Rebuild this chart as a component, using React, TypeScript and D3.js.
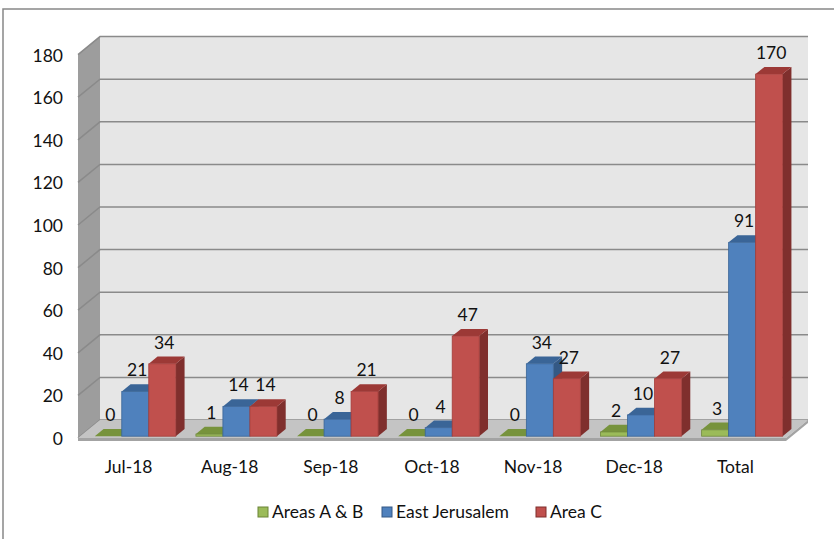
import * as React from 'react';
import * as d3 from 'd3';

const WIDTH = 834;
const HEIGHT = 539;

const categories = ['Jul-18', 'Aug-18', 'Sep-18', 'Oct-18', 'Nov-18', 'Dec-18', 'Total'];
const seriesNames = ['Areas A & B', 'East Jerusalem', 'Area C'];
const areasAB = [0, 1, 0, 0, 0, 2, 3];
const eastJerusalem = [21, 14, 8, 4, 34, 10, 91];
const areaC = [34, 14, 21, 47, 27, 27, 170];
const yTicks = [0, 20, 40, 60, 80, 100, 120, 140, 160, 180];

const seriesValues = [areasAB, eastJerusalem, areaC];
const palette = [
  { front: '#9bbb59', top: '#77933c', side: '#6b8436', stroke: '#71893f' },
  { front: '#4f81bd', top: '#3a6597', side: '#345985', stroke: '#3a6597' },
  { front: '#c0504d', top: '#9c3936', side: '#7f2f2d', stroke: '#a33e3b' },
];

// depth of the 3D box
const DX = 22;
const DY = 18;
const FONT = 'Lato, "Open Sans", sans-serif';
const FS = 17.5;

const x = d3.scaleBand().domain(categories).range([78, 786]);
const y = d3.scaleLinear().domain([0, 180]).range([438, 54.6]);
const inner = d3.scaleBand().domain(seriesNames).range([-36, 45]);

const P = (px, v, d) => [px + DX * d, y(v) - DY * d];
const poly = pts => pts.map(p => p.join(',')).join(' ');

const App = () => {
  const ref = React.useRef(null);

  React.useEffect(() => {
    const svg = d3.select(ref.current);
    svg.selectAll('*').remove();

    // chart frame
    svg
      .append('rect')
      .attr('x', 3)
      .attr('y', 9)
      .attr('width', 850)
      .attr('height', 560)
      .attr('fill', '#fff')
      .attr('stroke', '#888')
      .attr('stroke-width', 1.5);

    // back wall
    const [bx0, by0] = P(x.range()[0], 180, 1);
    const [bx1, by1] = P(x.range()[1], 0, 1);
    svg
      .append('rect')
      .attr('x', bx0)
      .attr('y', by0)
      .attr('width', bx1 - bx0)
      .attr('height', by1 - by0)
      .attr('fill', '#e6e6e6');

    // side wall
    const x0 = x.range()[0];
    svg
      .append('polygon')
      .attr('points', poly([P(x0, 180, 0), P(x0, 180, 1), P(x0, 0, 1), P(x0, 0, 0)]))
      .attr('fill', '#9d9d9d');

    // gridlines
    yTicks.forEach(t => {
      svg
        .append('polyline')
        .attr('points', poly([P(x0, t, 0), P(x0, t, 1), P(x.range()[1], t, 1)]))
        .attr('fill', 'none')
        .attr('stroke', '#8a8a8a')
        .attr('stroke-width', 1.5);
    });

    // floor
    const x1 = x.range()[1];
    svg
      .append('polygon')
      .attr('points', poly([P(x0, 0, 0), P(x1, 0, 0), P(x1, 0, 1), P(x0, 0, 1)]))
      .attr('fill', '#c4c4c4');
    svg
      .append('polygon')
      .attr('points', poly([P(x0, 0, 0), P(x1, 0, 0), [x1, y(0) + 3], [x0, y(0) + 3]]))
      .attr('fill', '#a3a3a3');
    svg
      .append('polygon')
      .attr('points', poly([P(x1, 0, 0), P(x1, 0, 1), [x1 + DX, y(0) - DY + 3], [x1, y(0) + 3]]))
      .attr('fill', '#a3a3a3');

    // bars
    const dF = 0.1;
    const dB = 0.5;
    const labels = [];
    categories.forEach((c, ci) => {
      const cx = x(c) + x.bandwidth() / 2;
      seriesNames.forEach((s, si) => {
        const v = seriesValues[si][ci];
        const col = palette[si];
        const l = cx + inner(s);
        const r = l + inner.bandwidth();
        const g = svg.append('g');
        if (v > 0) {
          g.append('polygon')
            .attr('points', poly([P(r, v, dF), P(r, v, dB), P(r, 0, dB), P(r, 0, dF)]))
            .attr('fill', col.side);
        }
        g.append('polygon')
          .attr('points', poly([P(l, v, dF), P(r, v, dF), P(r, v, dB), P(l, v, dB)]))
          .attr('fill', col.top);
        if (v > 0) {
          const [fx, fy] = P(l, v, dF);
          const [, fy0] = P(l, 0, dF);
          g.append('rect')
            .attr('x', fx)
            .attr('y', fy)
            .attr('width', r - l)
            .attr('height', fy0 - fy)
            .attr('fill', col.front)
            .attr('stroke', col.stroke)
            .attr('stroke-width', 0.8);
        }
        const [lx, ly] = P((l + r) / 2, v, dF);
        labels.push({ x: lx + 2, y: ly - 15, text: String(v) });
      });
    });

    svg
      .append('g')
      .selectAll('text')
      .data(labels)
      .enter()
      .append('text')
      .attr('x', d => d.x)
      .attr('y', d => d.y)
      .attr('text-anchor', 'middle')
      .attr('font-family', FONT)
      .attr('font-size', FS)
      .attr('fill', '#111')
      .text(d => d.text);

    // y axis labels
    svg
      .append('g')
      .selectAll('text')
      .data(yTicks)
      .enter()
      .append('text')
      .attr('x', 63)
      .attr('y', d => y(d) + 7)
      .attr('text-anchor', 'end')
      .attr('font-family', FONT)
      .attr('font-size', FS)
      .attr('fill', '#111')
      .text(d => d);

    // category labels
    svg
      .append('g')
      .selectAll('text')
      .data(categories)
      .enter()
      .append('text')
      .attr('x', d => x(d) + x.bandwidth() / 2)
      .attr('y', 473)
      .attr('text-anchor', 'middle')
      .attr('font-family', FONT)
      .attr('font-size', FS)
      .attr('fill', '#111')
      .text(d => d);

    // legend
    const legendX = [258, 382, 536];
    const leg = svg
      .append('g')
      .selectAll('g')
      .data(seriesNames)
      .enter()
      .append('g')
      .attr('transform', (d, i) => `translate(${legendX[i]},507)`);
    leg
      .append('rect')
      .attr('width', 10)
      .attr('height', 10)
      .attr('fill', (d, i) => palette[i].front)
      .attr('stroke', (d, i) => palette[i].side)
      .attr('stroke-width', 1);
    leg
      .append('text')
      .attr('x', 14)
      .attr('y', 11)
      .attr('font-family', FONT)
      .attr('font-size', FS)
      .attr('fill', '#111')
      .text(d => d);
  }, []);

  return (
    <svg
      ref={ref}
      width={WIDTH}
      height={HEIGHT}
      style={{ position: 'absolute', left: 0, top: 0 }}
    />
  );
};

export default App;
